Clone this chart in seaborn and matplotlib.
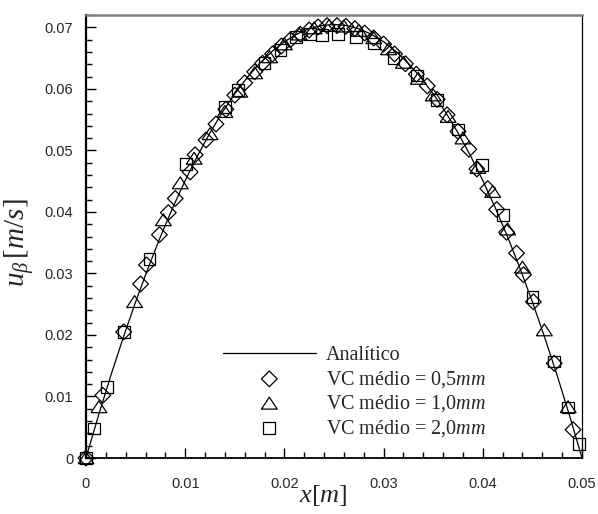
import matplotlib
matplotlib.use("Agg")
import matplotlib.pyplot as plt
from matplotlib.ticker import MultipleLocator, FuncFormatter
import seaborn as sns

# Analytical velocity profile (Poiseuille flow between plates)
x_analitico = [0.0, 0.00125, 0.0025, 0.00375, 0.005, 0.00625, 0.0075, 0.00875,
               0.01, 0.01125, 0.0125, 0.01375, 0.015, 0.01625, 0.0175, 0.01875,
               0.02, 0.02125, 0.0225, 0.02375, 0.025, 0.02625, 0.0275, 0.02875,
               0.03, 0.03125, 0.0325, 0.03375, 0.035, 0.03625, 0.0375, 0.03875,
               0.04, 0.04125, 0.0425, 0.04375, 0.045, 0.04625, 0.0475, 0.04875, 0.05]
u_analitico = [0.0, 0.00687, 0.01340, 0.01956, 0.02538, 0.03084, 0.03596, 0.04071,
               0.04512, 0.04917, 0.05288, 0.05622, 0.05922, 0.06186, 0.06416, 0.06609,
               0.06768, 0.06891, 0.06980, 0.07032, 0.07050, 0.07032, 0.06980, 0.06891,
               0.06768, 0.06609, 0.06416, 0.06186, 0.05922, 0.05622, 0.05288, 0.04917,
               0.04512, 0.04071, 0.03596, 0.03084, 0.02538, 0.01956, 0.01340, 0.00687, 0.0]

# Numerical results, mean control volume 0.5 mm
x_05 = [0.0, 0.0017, 0.0038, 0.0055, 0.0061, 0.0074, 0.0083, 0.0090, 0.0105,
        0.0110, 0.0121, 0.0131, 0.0141, 0.0150, 0.0160, 0.0170, 0.0178, 0.0188,
        0.0197, 0.0206, 0.0216, 0.0225, 0.0234, 0.0243, 0.0253, 0.0262, 0.0271,
        0.0281, 0.0290, 0.0300, 0.0311, 0.0322, 0.0333, 0.0344, 0.0354, 0.0364,
        0.0375, 0.0386, 0.0394, 0.0405, 0.0414, 0.0424, 0.0434, 0.0441, 0.0451,
        0.0472, 0.0491]
u_05 = [0.0, 0.0102, 0.0205, 0.0283, 0.0314, 0.0363, 0.0399, 0.0422, 0.0465,
        0.0493, 0.0517, 0.0543, 0.0567, 0.0590, 0.0610, 0.0628, 0.0642, 0.0657,
        0.0670, 0.0680, 0.0689, 0.0696, 0.0701, 0.0703, 0.0703, 0.0702, 0.0698,
        0.0691, 0.0683, 0.0673, 0.0657, 0.0641, 0.0624, 0.0605, 0.0583, 0.0558,
        0.0531, 0.0502, 0.0470, 0.0438, 0.0404, 0.0367, 0.0333, 0.0298, 0.0254,
        0.0154, 0.0046]

# Numerical results, mean control volume 1.0 mm
x_10 = [0.0, 0.0013, 0.0049, 0.0078, 0.0095, 0.0109, 0.0125, 0.0140, 0.0155,
        0.0170, 0.0185, 0.0200, 0.0215, 0.0230, 0.0245, 0.0260, 0.0275, 0.0290,
        0.0305, 0.0320, 0.0335, 0.0350, 0.0365, 0.0380, 0.0395, 0.0410, 0.0425,
        0.0440, 0.0462, 0.0486]
u_10 = [0.0, 0.0083, 0.0254, 0.0387, 0.0447, 0.0487, 0.0527, 0.0563, 0.0596,
        0.0626, 0.0652, 0.0673, 0.0689, 0.0699, 0.0703, 0.0702, 0.0695, 0.0683,
        0.0665, 0.0643, 0.0617, 0.0590, 0.0555, 0.0520, 0.0472, 0.0433, 0.0372,
        0.0310, 0.0208, 0.0083]

# Numerical results, mean control volume 2.0 mm
x_20 = [0.0, 0.0008, 0.0021, 0.0038, 0.0064, 0.0101, 0.0140, 0.0153, 0.0180,
        0.0196, 0.0212, 0.0226, 0.0238, 0.0254, 0.0272, 0.0290, 0.0310, 0.0334,
        0.0354, 0.0375, 0.0399, 0.0420, 0.0450, 0.0472, 0.0486, 0.0497]
u_20 = [0.0, 0.0048, 0.0115, 0.0205, 0.0324, 0.0478, 0.0571, 0.0598, 0.0642,
        0.0663, 0.0685, 0.0690, 0.0688, 0.0690, 0.0685, 0.0674, 0.0650, 0.0622,
        0.0582, 0.0534, 0.0476, 0.0395, 0.0262, 0.0157, 0.0082, 0.0023]

rotulos = ["Analítico",
           r"VC médio = 0,5$mm$",
           r"VC médio = 1,0$mm$",
           r"VC médio = 2,0$mm$"]

sns.set_style("ticks")
plt.rcParams["font.family"] = ["Liberation Sans", "DejaVu Sans"]
plt.rcParams["mathtext.fontset"] = "custom"
plt.rcParams["mathtext.rm"] = "Liberation Serif"
plt.rcParams["mathtext.it"] = "Liberation Serif:italic"
plt.rcParams["mathtext.bf"] = "Liberation Serif:bold"

fig = plt.figure(figsize=(5.98, 5.14), dpi=100)
ax = fig.add_axes([86 / 598, 1 - 458 / 514, 496 / 598, 443 / 514])

sns.lineplot(x=x_analitico, y=u_analitico, color="black", linewidth=0.9,
             label=rotulos[0], ax=ax, zorder=2)

triangulo = [(-1.0, -0.72), (1.0, -0.72), (0.0, 0.78), (-1.0, -0.72)]
estilo = dict(facecolor="none", edgecolor="black", linewidth=0.9,
              clip_on=False, zorder=3, ax=ax)
sns.scatterplot(x=x_05, y=u_05, marker="D", s=64, label=rotulos[1], **estilo)
sns.scatterplot(x=x_10, y=u_10, marker=triangulo, s=130, label=rotulos[2], **estilo)
sns.scatterplot(x=x_20, y=u_20, marker="s", s=72, label=rotulos[3], **estilo)

ax.set_xlim(0, 0.05)
ax.set_ylim(0, 0.07203)

fmt = FuncFormatter(lambda v, _: "0" if abs(v) < 1e-12 else f"{v:.2f}")
ax.xaxis.set_major_locator(MultipleLocator(0.01))
ax.xaxis.set_minor_locator(MultipleLocator(0.002))
ax.yaxis.set_major_locator(MultipleLocator(0.01))
ax.yaxis.set_minor_locator(MultipleLocator(0.002))
ax.xaxis.set_major_formatter(fmt)
ax.yaxis.set_major_formatter(fmt)

ax.tick_params(axis="both", which="both", direction="in", color="black",
               top=False, right=False)
ax.tick_params(axis="both", which="major", length=7.5, width=1.0, labelsize=10.5)
ax.tick_params(axis="both", which="minor", length=4.5, width=1.0)
ax.tick_params(axis="x", which="major", pad=14)
ax.tick_params(axis="y", which="major", pad=9)

for lado, cor, largura in [("left", "black", 1.6), ("bottom", "black", 1.3),
                           ("right", "black", 0.9), ("top", "#808080", 1.8)]:
    ax.spines[lado].set_visible(True)
    ax.spines[lado].set_color(cor)
    ax.spines[lado].set_linewidth(largura)

ax.set_xlabel(r"$x[m]$", fontsize=19)
ax.set_ylabel(r"$u_{\beta}\,[m/s]$", fontsize=21)
ax.xaxis.set_label_coords(0.478, -0.056)
ax.yaxis.set_label_coords(-0.1, 0.485)

handles, labels = ax.get_legend_handles_labels()
ax.legend(handles, labels, loc="upper left",
          bbox_to_anchor=(223 / 598, 1 - 346 / 514), bbox_transform=fig.transFigure,
          frameon=False, borderpad=0, borderaxespad=0,
          handlelength=4.6, handletextpad=0.5, labelspacing=0.18,
          prop={"family": "Liberation Serif", "size": 14.5})

fig.savefig("out.png", dpi=100)
